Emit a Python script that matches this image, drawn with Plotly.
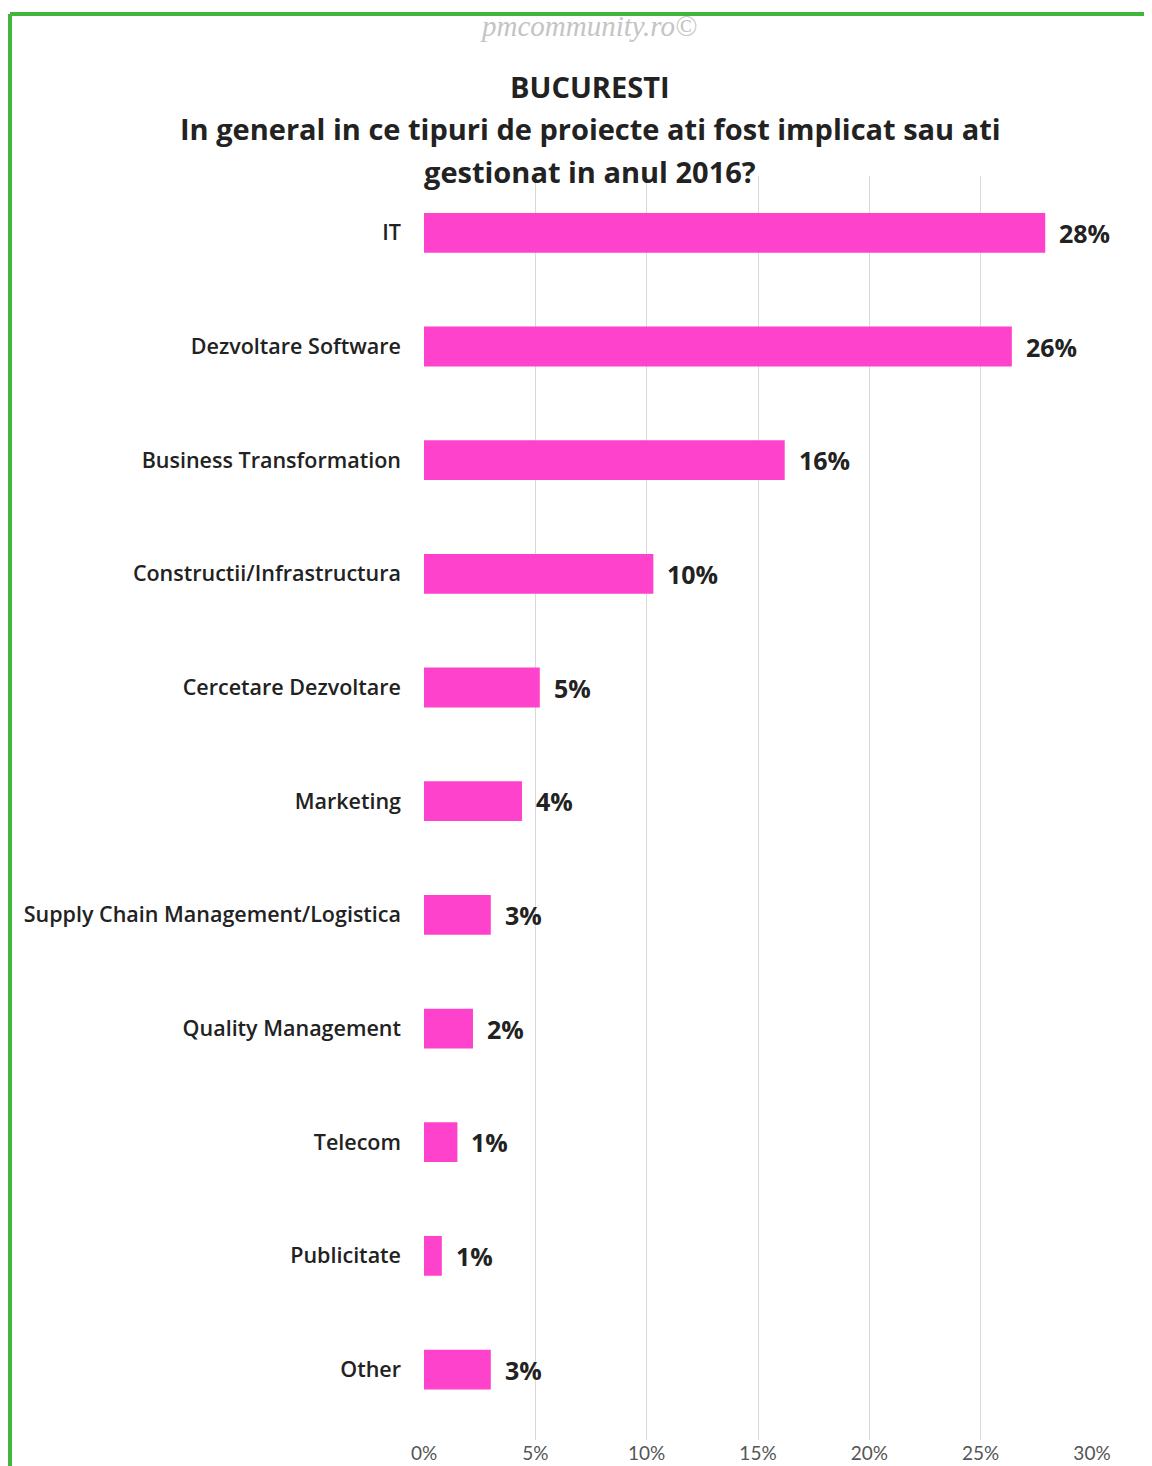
import plotly.graph_objects as go

categories = ["IT", "Dezvoltare Software", "Business Transformation", "Constructii/Infrastructura",
              "Cercetare Dezvoltare", "Marketing", "Supply Chain Management/Logistica",
              "Quality Management", "Telecom", "Publicitate", "Other"]
values = [27.9, 26.4, 16.2, 10.3, 5.2, 4.4, 3.0, 2.2, 1.5, 0.8, 3.0]
labels = ["28%", "26%", "16%", "10%", "5%", "4%", "3%", "2%", "1%", "1%", "3%"]
tick_vals = [0, 5, 10, 15, 20, 25, 30]
tick_text = ["0%", "5%", "10%", "15%", "20%", "25%", "30%"]

OFF = 8  # page body margin
W, H = 1144, 1458
L, R, T, B = 416, 60, 168, 26
pw, ph = W - L - R, H - T - B

def px(xs):
    return (xs - OFF - L) / pw

def py(ys):
    return (H - B - (ys - OFF)) / ph

fig = go.Figure()
fig.add_trace(go.Bar(
    x=values, y=categories, orientation="h",
    marker=dict(color="#FF42CC", line=dict(width=0)),
    width=0.35, hoverinfo="skip",
))

for v, c, t in zip(values, categories, labels):
    fig.add_annotation(x=v, y=c, text=t, showarrow=False, xanchor="left", xshift=12,
                       font=dict(family="Open Sans", size=25, color="#222222", weight="bold"))

title_lines = ["BUCURESTI", "In general in ce tipuri de proiecte ati fost implicat sau ati",
               "gestionat in anul 2016?"]
for i, line in enumerate(title_lines):
    fig.add_annotation(xref="paper", yref="paper", x=px(590), y=py(87 + 42 * i), text=line,
                       showarrow=False, xanchor="center", yanchor="middle",
                       font=dict(family="Open Sans", size=29, color="#222222", weight="bold"))

fig.add_annotation(xref="paper", yref="paper", x=px(588), y=py(26), text="<i>pmcommunity.ro©</i>",
                   showarrow=False, xanchor="center", yanchor="middle",
                   font=dict(family="Liberation Serif", size=29, color="#c4c4c4"))

# green frame
fig.add_shape(type="line", xref="paper", yref="paper", x0=px(10), x1=px(1170), y0=py(14), y1=py(14),
              line=dict(color="#42b53c", width=4))
fig.add_shape(type="line", xref="paper", yref="paper", x0=px(10), x1=px(10), y0=py(14), y1=py(1480),
              line=dict(color="#42b53c", width=4))

fig.update_layout(
    width=W, height=H,
    margin=dict(l=L, r=R, t=T, b=B),
    paper_bgcolor="white", plot_bgcolor="white",
    showlegend=False,
    xaxis=dict(range=[0, 30], tickvals=tick_vals, ticktext=tick_text, showgrid=True,
               gridcolor="#d9d9d9", gridwidth=1, zeroline=False, showline=False, automargin=False,
               tickfont=dict(family="Lato", size=19, color="#555555"), fixedrange=True),
    yaxis=dict(categoryorder="array", categoryarray=categories, range=[10.62, -0.5],
               showgrid=False, zeroline=False, showline=False, ticklabelstandoff=22, automargin=False,
               tickfont=dict(family="Open Sans", size=21.5, color="#222222", weight=600), fixedrange=True),
)

fig.write_html("out.html")
